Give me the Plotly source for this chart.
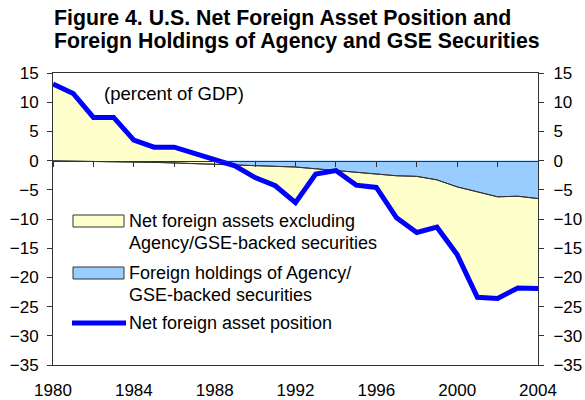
import plotly.graph_objects as go

years = list(range(1980, 2005))
# Net foreign asset position (percent of GDP)
nfa = [13.1, 11.5, 7.4, 7.4, 3.5, 2.3, 2.3, 1.2, 0.3, -0.9, -2.9, -4.3, -7.2,
       -2.3, -1.7, -4.2, -4.6, -9.8, -12.3, -11.4, -16.1, -23.4, -23.6, -21.8, -21.9]
# Foreign holdings of Agency/GSE-backed securities (percent of GDP)
agency = [0.05, 0.08, 0.12, 0.16, 0.2, 0.3, 0.4, 0.5, 0.6, 0.7, 0.8, 0.95, 1.1,
          1.4, 1.7, 2.0, 2.3, 2.6, 2.7, 3.3, 4.5, 5.3, 6.2, 6.1, 6.5]
x_ticks = [1980, 1984, 1988, 1992, 1996, 2000, 2004]
y_ticks = [-35, -30, -25, -20, -15, -10, -5, 0, 5, 10, 15]

neg_agency = [-a for a in agency]

FONT = "Liberation Sans, Arial, sans-serif"
YELLOW = "#FFFFCC"
LBLUE = "#99CCFF"
BLUE = "#0000FF"
AXC = "#333333"

W, H = 585, 400
L, R, T, B = 53, 538, 73, 365

def px(x):
    return (x - L) / (R - L)

def py(y):
    return (B - y) / (B - T)

fig = go.Figure()
# Blue area: foreign holdings of Agency/GSE-backed securities (0 down to -holdings)
fig.add_trace(go.Scatter(x=years, y=neg_agency, mode="lines", fill="tozeroy",
                         fillcolor=LBLUE, line=dict(color=AXC, width=1),
                         showlegend=False, hoverinfo="skip"))
# Yellow area: net foreign assets excluding Agency/GSE (stacked on top of blue)
fig.add_trace(go.Scatter(x=years, y=nfa, mode="lines", fill="tonexty",
                         fillcolor=YELLOW, line=dict(color=YELLOW, width=0),
                         showlegend=False, hoverinfo="skip"))
# Boundary line between the two areas
fig.add_trace(go.Scatter(x=years, y=neg_agency, mode="lines",
                         line=dict(color=AXC, width=1),
                         showlegend=False, hoverinfo="skip"))
# Net foreign asset position line
fig.add_trace(go.Scatter(x=years, y=nfa, mode="lines",
                         line=dict(color=BLUE, width=5),
                         showlegend=False))
# invisible traces to activate the secondary axes
fig.add_trace(go.Scatter(x=years, y=nfa, mode="lines", yaxis="y2",
                         line=dict(width=0), opacity=0, showlegend=False,
                         hoverinfo="skip"))
fig.add_trace(go.Scatter(x=years, y=nfa, mode="lines", xaxis="x2",
                         line=dict(width=0), opacity=0, showlegend=False,
                         hoverinfo="skip"))

axis_font = dict(family=FONT, size=17, color="black")

fig.update_layout(
    width=W, height=H,
    margin=dict(l=L, r=W - R, t=T, b=H - B, autoexpand=False),
    paper_bgcolor="white", plot_bgcolor="white",
    font=dict(family=FONT, color="black"),
    xaxis=dict(range=[1980, 2004], tickvals=x_ticks, ticks="", showgrid=False,
               zeroline=False, showline=True, linecolor=AXC, linewidth=1,
               mirror=True, tickfont=axis_font, ticklabelstandoff=10,
               automargin=False),
    xaxis2=dict(range=[1980, 2004], overlaying="x", anchor="free", position=0.7,
                side="bottom", dtick=2, tick0=1980, ticks="outside", ticklen=5,
                tickcolor=AXC, showticklabels=False, showgrid=False,
                zeroline=False, showline=True, linecolor=AXC, linewidth=1,
                automargin=False),
    yaxis=dict(range=[-35, 15], tickvals=y_ticks, ticks="outside", ticklen=5,
               tickcolor=AXC, showgrid=False, zeroline=False,
               showline=True, linecolor=AXC, linewidth=1,
               tickfont=axis_font, ticklabelstandoff=5, automargin=False),
    yaxis2=dict(range=[-35, 15], tickvals=y_ticks, overlaying="y", side="right",
                ticks="outside", ticklen=5, tickcolor=AXC, showgrid=False,
                zeroline=False, showline=True, linecolor=AXC, linewidth=1,
                tickfont=axis_font, ticklabelstandoff=6, automargin=False),
    shapes=[
        dict(type="rect", xref="paper", yref="paper",
             x0=px(73), x1=px(124), y0=py(227), y1=py(215),
             fillcolor=YELLOW, line=dict(color=AXC, width=1)),
        dict(type="rect", xref="paper", yref="paper",
             x0=px(73), x1=px(124), y0=py(279), y1=py(267),
             fillcolor=LBLUE, line=dict(color=AXC, width=1)),
        dict(type="line", xref="paper", yref="paper",
             x0=px(72), x1=px(126), y0=py(323), y1=py(323),
             line=dict(color=BLUE, width=5)),
    ],
)

title_lines = [
    ("Figure 4. U.S. Net Foreign Asset Position and", 18),
    ("Foreign Holdings of Agency and GSE Securities", 41),
]
for txt, yy in title_lines:
    fig.add_annotation(text="<b>" + txt + "</b>", xref="paper", yref="paper",
                       x=px(52), y=py(yy), xanchor="left", yanchor="middle",
                       showarrow=False,
                       font=dict(family=FONT, size=21.3, color="black"))

legend_lines = [
    ("Net foreign assets excluding", 221),
    ("Agency/GSE-backed securities", 243),
    ("Foreign holdings of Agency/", 273),
    ("GSE-backed securities", 295),
    ("Net foreign asset position", 323),
]
for txt, yy in legend_lines:
    fig.add_annotation(text=txt, xref="paper", yref="paper", x=px(127), y=py(yy),
                       xanchor="left", yanchor="middle", showarrow=False,
                       font=dict(family=FONT, size=18, color="black"))

fig.add_annotation(text="(percent of GDP)", xref="paper", yref="paper",
                   x=px(102), y=py(93), xanchor="left", yanchor="middle",
                   showarrow=False, font=dict(family=FONT, size=18.5, color="black"))

fig.write_html("out.html", post_script="document.body.style.margin='0px';",
               config={"displayModeBar": False})
